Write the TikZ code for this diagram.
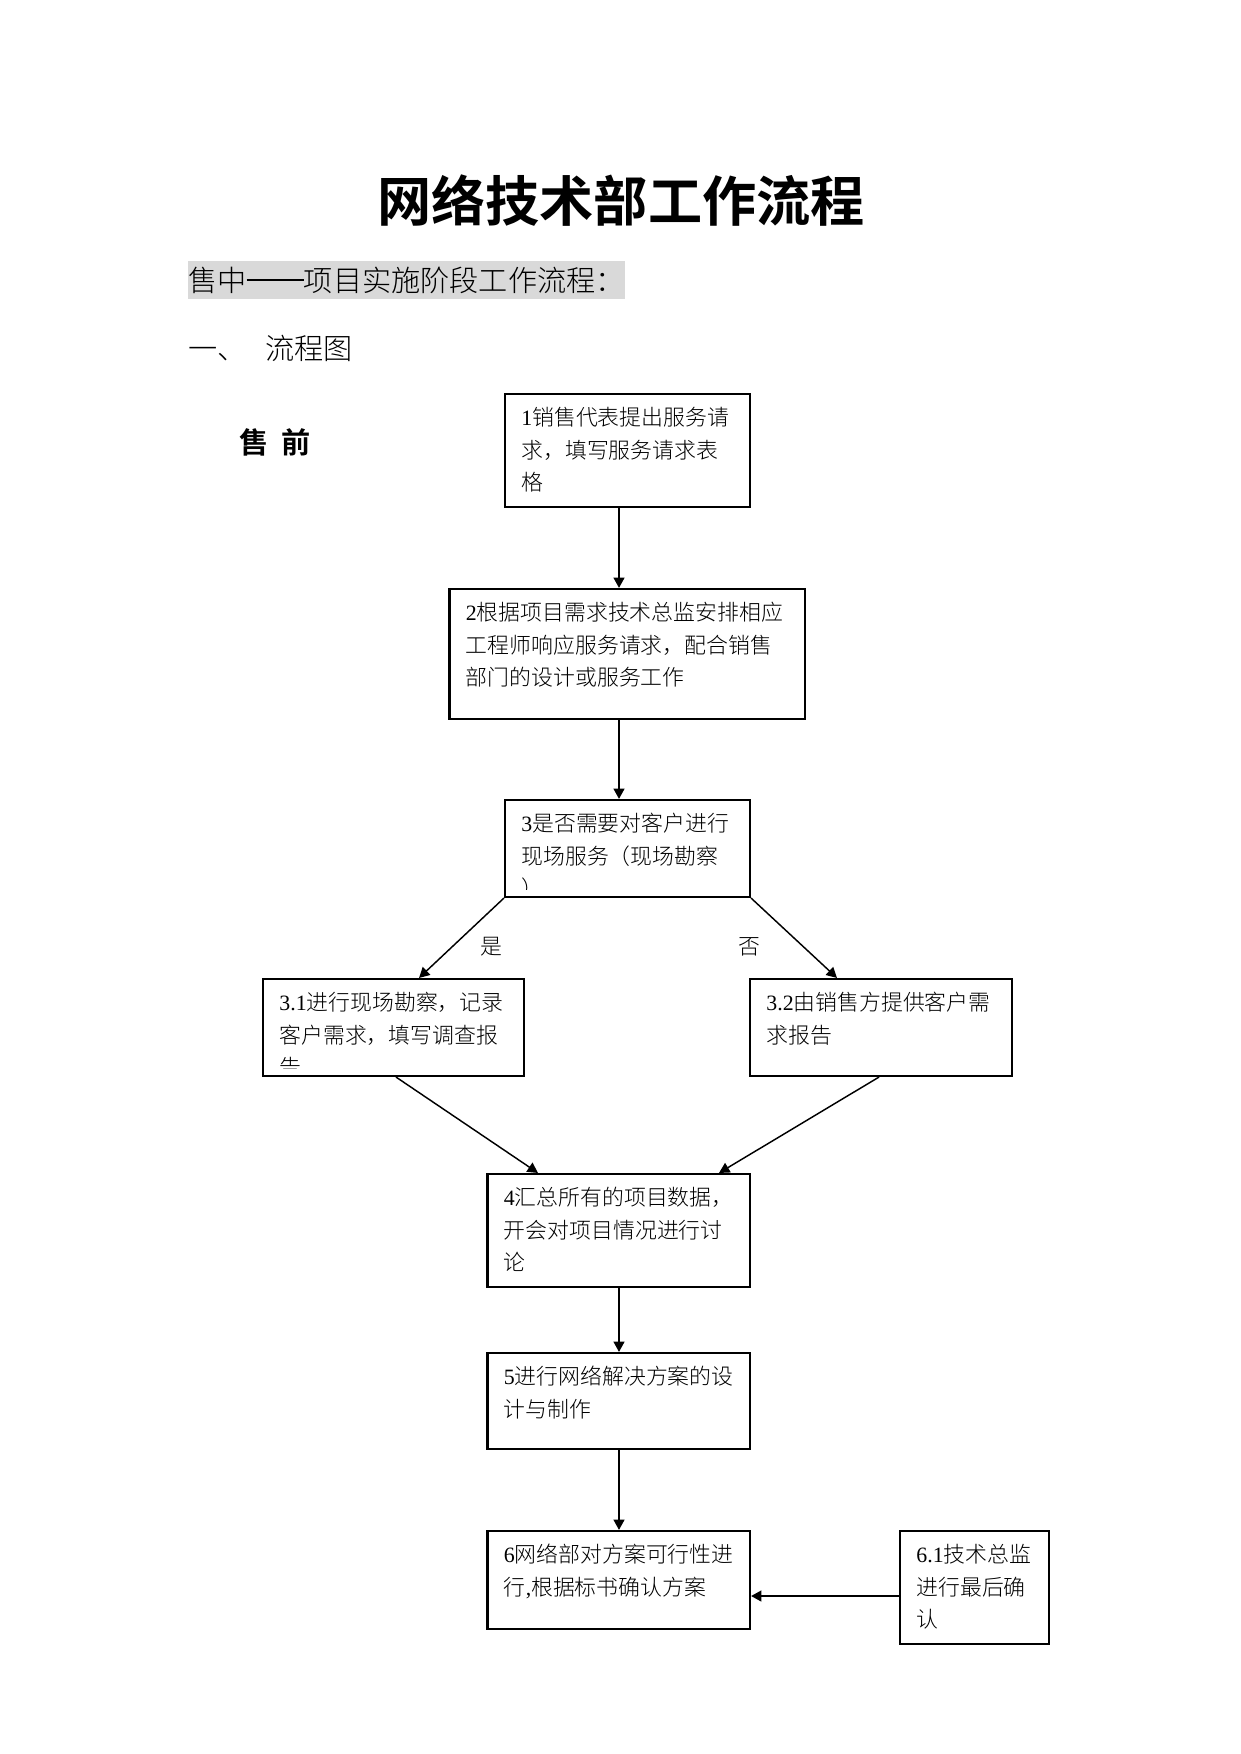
\documentclass[tikz,border=0pt]{standalone}
\usepackage{fontspec}
\setmainfont{Noto Sans CJK SC}[UprightFont=* Light, BoldFont=* Bold]
\newfontfamily\lat{Liberation Serif}
\usetikzlibrary{arrows.meta}
\definecolor{band}{RGB}{217,217,217}
\newcommand\Lx[1]{\hbox{#1}}
\newcommand\cjkdash{\rule[0.36em]{1.96em}{0.05em}}
\newcommand\flowbox[6]{%
  \node[boxst, minimum width={(#4-#2)*0.48pt}, minimum height={(#5-#3)*0.48pt}] (#1) at ({(#2+#4)/2},{(#3+#5)/2}) {};
  \begin{scope}
    \clip (#1.north west) rectangle ([shift={(0,-9)}]#1.south east);
    \node[txtst] at ([shift={(17,33)}]#1.north west) {\vtop{\baselineskip=15.6pt\lineskiplimit=-30pt\lineskip=0pt #6}};
  \end{scope}}
\tikzset{
 boxst/.style={draw, line width=1pt, inner sep=0pt, rectangle},
 txtst/.style={anchor=base west, inner sep=0pt, font=\fontsize{10.5pt}{15.6pt}\selectfont},
 arr/.style={line width=1pt, -{Triangle[length=5pt,width=5.2pt]}},
 darr/.style={line width=0.7pt, -{Triangle[length=5pt,width=5.2pt]}},
 lbl/.style={inner sep=0pt, font=\fontsize{10.5pt}{12pt}\selectfont},
}
\begin{document}
\begin{tikzpicture}[x=0.48pt,y=-0.48pt]
\useasboundingbox (0,0) rectangle (1241,1754);
\fill[white] (0,0) rectangle (1241,1754);
% title and headings
\node[inner sep=0pt, font=\bfseries\fontsize{26pt}{28pt}\selectfont] (title) at (621,201) {网络技术部工作流程};
\node[fill=band, inner sep=0pt, minimum width={437*0.48pt}, minimum height={38*0.48pt}, font=\fontsize{14pt}{16pt}\selectfont] (hdr) at (406.5,280) {售中\cjkdash 项目实施阶段工作流程：};
\node[anchor=west, inner sep=0pt, font=\fontsize{14pt}{16pt}\selectfont] (sec) at (188,348) {一、\hspace{9pt}流程图};
\node[anchor=west, inner sep=0pt, font=\bfseries\fontsize{14pt}{16pt}\selectfont] (pre) at (239,442) {售\hspace{6pt}前};
% boxes
\flowbox{b1}{505}{394}{750}{507}{\Lx{{\lat 1}销售代表提出服务请}\Lx{求，填写服务请求表}\Lx{格}}
\flowbox{b2}{449.5}{589}{805}{719}{\Lx{{\lat 2}根据项目需求技术总监安排相应}\Lx{工程师响应服务请求，配合销售}\Lx{部门的设计或服务工作}}
\flowbox{b3}{505}{800}{750}{897}{\Lx{{\lat 3}是否需要对客户进行}\Lx{现场服务（现场勘察}\Lx{）}}
\flowbox{b31}{263}{979}{524}{1076}{\Lx{{\lat 3.1}进行现场勘察，记录}\Lx{客户需求，填写调查报}\Lx{告}}
\flowbox{b32}{750}{979}{1012}{1076}{\Lx{{\lat 3.2}由销售方提供客户需}\Lx{求报告}}
\flowbox{b4}{487.5}{1174}{750}{1287}{\Lx{{\lat 4}汇总所有的项目数据，}\Lx{开会对项目情况进行讨}\Lx{论}}
\flowbox{b5}{487.5}{1353}{750}{1449}{\Lx{{\lat 5}进行网络解决方案的设}\Lx{计与制作}}
\flowbox{b6}{487.5}{1531}{750}{1629}{\Lx{{\lat 6}网络部对方案可行性进}\Lx{行{\lat ,}根据标书确认方案}}
\flowbox{b61}{900}{1531}{1049}{1644}{\Lx{{\lat 6.1}技术总监}\Lx{进行最后确}\Lx{认}}
% labels
\node[lbl] (yes) at (491.5,947) {是};
\node[lbl] (no) at (749,947) {否};
% connectors
\coordinate (xm) at (619,0);
\coordinate (xl) at (419,0);
\coordinate (xr) at (837,0);
\coordinate (xa) at (396,0);
\coordinate (xb) at (538,0);
\coordinate (xc) at (879,0);
\coordinate (xd) at (719,0);
\coordinate (yh) at (0,1596);
\draw[arr] (b1.south -| xm) -- (b2.north -| xm);
\draw[arr] (b2.south -| xm) -- (b3.north -| xm);
\draw[darr] (b3.south west) -- (b31.north -| xl);
\draw[darr] (b3.south east) -- (b32.north -| xr);
\draw[darr] (b31.south -| xa) -- (b4.north -| xb);
\draw[darr] (b32.south -| xc) -- (b4.north -| xd);
\draw[arr] (b4.south -| xm) -- (b5.north -| xm);
\draw[arr] (b5.south -| xm) -- (b6.north -| xm);
\draw[arr] (b61.west |- yh) -- (b6.east |- yh);
\end{tikzpicture}
\end{document}
